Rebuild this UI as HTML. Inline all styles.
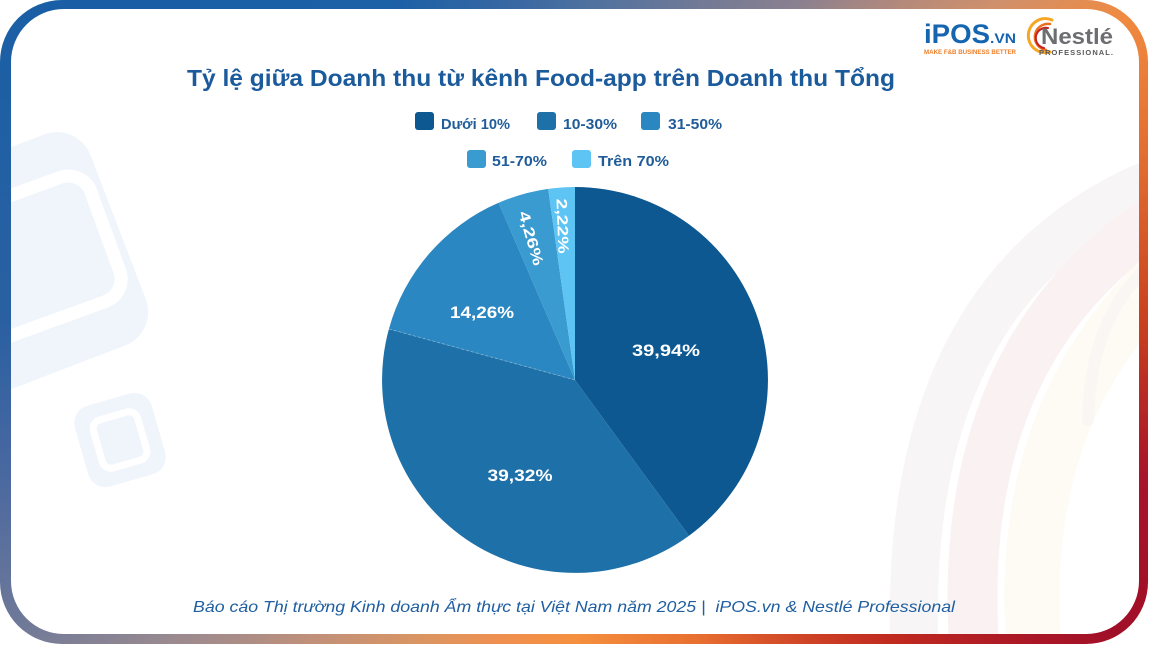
<!DOCTYPE html>
<html>
<head>
<meta charset="utf-8">
<style>
  html,body{margin:0;padding:0;background:#ffffff;}
  #root{position:relative;width:1150px;height:647px;overflow:hidden;background:#ffffff;}
  #frame{position:absolute;left:0;top:0;width:1148px;height:644px;border-radius:62px;
    background:conic-gradient(from 0deg at 575px 323px,
      #4a70a0 0deg, #8a8090 35deg, #d0906c 53deg, #f08a40 61deg, #e06a30 75deg,
      #c84020 90deg, #a8142a 105deg, #a00f28 120deg, #c02a20 135deg, #e87030 159deg,
      #f5903f 180deg, #f09050 193deg, #dc9560 205deg, #c0907a 220deg, #9a8a90 232deg,
      #707a98 241deg, #4a68a0 255deg, #2a60a2 270deg, #1a5fa5 300deg, #1c60a6 330deg,
      #3a68a2 350deg, #4a70a0 360deg);}
  #inner{position:absolute;left:11px;top:9px;width:1128px;height:625px;border-radius:53px;background:#ffffff;}
  svg{position:absolute;left:0;top:0;}
</style>
</head>
<body>
<div id="root">
  <div id="frame"></div>
  <div id="inner"></div>
  <svg width="1150" height="647" viewBox="0 0 1150 647" xmlns="http://www.w3.org/2000/svg">
    <defs>
      <clipPath id="innerClip">
        <rect x="11" y="9" width="1128" height="625" rx="53" ry="53"/>
      </clipPath>
    </defs>

    <!-- background decorations -->
    <g clip-path="url(#innerClip)">
      <g transform="translate(22,264) rotate(-21)">
        <rect x="-103" y="-113" width="206" height="226" rx="36" fill="#eff5fb"/>
      </g>
      <g transform="translate(32,258) rotate(-20)">
        <rect x="-78" y="-66" width="156" height="132" rx="24" fill="none" stroke="#ffffff" stroke-width="13"/>
      </g>
      <g transform="translate(120,440) rotate(-16)">
        <rect x="-40" y="-42" width="80" height="84" rx="18" fill="#eff5fb"/>
        <rect x="-23" y="-25" width="46" height="50" rx="9" fill="none" stroke="#ffffff" stroke-width="7"/>
      </g>
      <path d="M915,660 C905,450 960,260 1160,180" fill="none" stroke="#f7f5f5" stroke-width="48"/>
      <path d="M975,660 C960,470 1010,310 1170,210" fill="none" stroke="#faf2f2" stroke-width="50"/>
      <path d="M1035,660 C1020,500 1060,370 1170,270" fill="none" stroke="#fefaf4" stroke-width="55"/>
      <path d="M1088,420 C1090,350 1110,300 1150,265" fill="none" stroke="#f6f3f3" stroke-opacity="0.7" stroke-width="12" stroke-linecap="round"/>
    </g>

    <!-- logos -->
    <text x="924" y="43" font-family="Liberation Sans, sans-serif" font-weight="bold" font-size="27" fill="#1565b0" textLength="66" lengthAdjust="spacingAndGlyphs">iPOS</text>
    <text x="990" y="43" font-family="Liberation Sans, sans-serif" font-weight="bold" font-size="14" fill="#1565b0" textLength="26" lengthAdjust="spacingAndGlyphs">.VN</text>
    <text x="924" y="54" font-family="Liberation Sans, sans-serif" font-weight="bold" font-size="6" fill="#f07f2a" textLength="92" lengthAdjust="spacingAndGlyphs">MAKE F&amp;B BUSINESS BETTER</text>

    <g fill="none" stroke-linecap="round">
      <path d="M1052,20 A17,17 0 1 0 1050,52" stroke="#f5a623" stroke-width="3"/>
      <path d="M1050,24 A13,13 0 1 0 1046,50" stroke="#e8701e" stroke-width="2.5"/>
      <path d="M1048,28 A9,9 0 1 0 1044,48" stroke="#c8201e" stroke-width="2"/>
    </g>
    <text x="1041" y="44" font-family="Liberation Sans, sans-serif" font-weight="bold" font-size="22" fill="#6d6e71" textLength="72" lengthAdjust="spacingAndGlyphs">Nestlé</text>
    <text x="1039" y="55" font-family="Liberation Sans, sans-serif" font-weight="bold" font-size="7.5" fill="#5a5a5a" textLength="74" lengthAdjust="spacing">PROFESSIONAL.</text>

    <!-- title -->
    <text x="187" y="86" font-family="Liberation Sans, sans-serif" font-weight="bold" font-size="23" fill="#1b5b9c" textLength="708" lengthAdjust="spacingAndGlyphs">Tỷ lệ giữa Doanh thu từ kênh Food-app trên Doanh thu Tổng</text>

    <!-- legend -->
    <g font-family="Liberation Sans, sans-serif" font-weight="bold" font-size="15" fill="#1f5c99">
      <rect x="415" y="112" width="19" height="18" rx="3" fill="#0d5891"/>
      <text x="441" y="129" textLength="69" lengthAdjust="spacingAndGlyphs">Dưới 10%</text>
      <rect x="537" y="112" width="19" height="18" rx="3" fill="#1e70a8"/>
      <text x="563" y="129" textLength="54" lengthAdjust="spacingAndGlyphs">10-30%</text>
      <rect x="641" y="112" width="19" height="18" rx="3" fill="#2b87c1"/>
      <text x="668" y="129" textLength="54" lengthAdjust="spacingAndGlyphs">31-50%</text>
      <rect x="467" y="150" width="19" height="18" rx="3" fill="#3a9bd1"/>
      <text x="492" y="166" textLength="55" lengthAdjust="spacingAndGlyphs">51-70%</text>
      <rect x="572" y="150" width="19" height="18" rx="3" fill="#5ec4f4"/>
      <text x="598" y="166" textLength="71" lengthAdjust="spacingAndGlyphs">Trên 70%</text>
    </g>

    <!-- pie -->
    <g>
      <path d="M575,380 L575,187 A193,193 0 0 1 689.0,535.7 Z" fill="#0d5891"/>
      <path d="M575,380 L689.0,535.7 A193,193 0 0 1 388.9,329.0 Z" fill="#1e70a8"/>
      <path d="M575,380 L388.9,329.0 A193,193 0 0 1 498.6,202.8 Z" fill="#2b87c1"/>
      <path d="M575,380 L498.6,202.8 A193,193 0 0 1 548.2,188.9 Z" fill="#3a9bd1"/>
      <path d="M575,380 L548.2,188.9 A193,193 0 0 1 575,187 Z" fill="#5ec4f4"/>
      <line x1="575" y1="380" x2="388.9" y2="329.0" stroke="#ffffff" stroke-opacity="0.35" stroke-width="0.8" stroke-dasharray="3,2"/>
    </g>

    <!-- pie labels -->
    <g font-family="Liberation Sans, sans-serif" font-weight="bold" font-size="17" fill="#ffffff" text-anchor="middle">
      <text x="666" y="356" textLength="68" lengthAdjust="spacingAndGlyphs">39,94%</text>
      <text x="520" y="481" textLength="65" lengthAdjust="spacingAndGlyphs">39,32%</text>
      <text x="482" y="318" textLength="64" lengthAdjust="spacingAndGlyphs">14,26%</text>
      <text x="0" y="0" transform="translate(532,238) rotate(74) translate(0,6)" font-size="15" textLength="56" lengthAdjust="spacingAndGlyphs">4,26%</text>
      <text x="0" y="0" transform="translate(563,226) rotate(88) translate(0,5.5)" font-size="15" textLength="55" lengthAdjust="spacingAndGlyphs">2,22%</text>
    </g>

    <!-- footer -->
    <text x="193" y="612" font-family="Liberation Sans, sans-serif" font-style="italic" font-size="16" fill="#1f5ea0" textLength="762" lengthAdjust="spacingAndGlyphs" xml:space="preserve">Báo cáo Thị trường Kinh doanh Ẩm thực tại Việt Nam năm 2025 |  iPOS.vn &amp; Nestlé Professional</text>
  </svg>
</div>
</body>
</html>
